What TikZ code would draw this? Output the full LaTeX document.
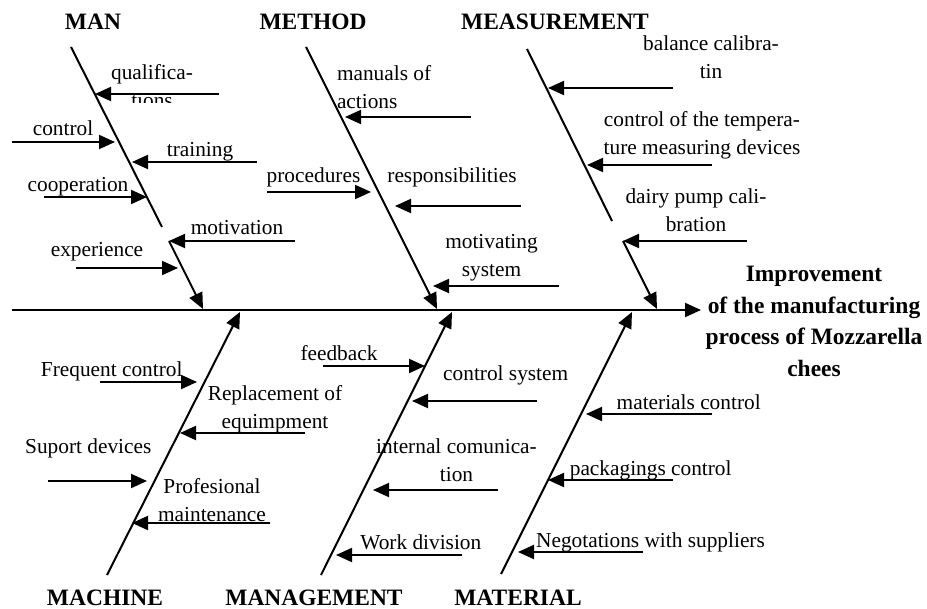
\documentclass[tikz,border=0pt]{standalone}
\usepackage{fontspec}
\setmainfont{Liberation Serif}
\usetikzlibrary{arrows.meta}

\tikzset{every picture/.style={line width=1.5pt}}
\tikzset{
	bone/.style={line width=1.5pt},
	rib/.style={line width=1.5pt,-{Triangle[length=12pt,width=10.5pt]}},
	lbl/.style={inner sep=0pt,anchor=base,align=center,font=\fontsize{16}{21}\selectfont},
	cat/.style={inner sep=0pt,anchor=base,font=\fontsize{17.6}{21}\selectfont\bfseries},
	effect/.style={inner sep=0pt,anchor=base,align=center,font=\fontsize{17.6}{23.8}\selectfont\bfseries}}

\begin{document}
\begin{tikzpicture}[x=0.75pt,y=0.75pt,yscale=-1,xscale=1]
	\useasboundingbox (0,0) rectangle (927,609);

	% Text Node
	\node[effect] (goal) at (814,376.7) {Improvement\\of the manufacturing\\process of Mozzarella\\chees};
	% Text Node
	\node[cat] (man) at (93,30) {MAN};
	\node[cat] (method) at (313,30) {METHOD};
	\node[cat] (measure) at (555,30) {MEASUREMENT};
	\node[cat] (machine) at (105,605) {MACHINE};
	\node[cat] (manage) at (314,605) {MANAGEMENT};
	\node[cat] (material) at (518,605) {MATERIAL};

	%Straight Lines - spine
	\coordinate (tail) at (12,310);
	\coordinate (head) at (701,310);
	\draw[rib] (tail) -- (head);

	%Straight Lines - top bones
	\coordinate (manA) at (71,47);
	\coordinate (manB) at (162,227);
	\coordinate (manC) at (169,241);
	\coordinate (manD) at (203,309);
	\draw[bone] (manA) -- (manB);
	\draw[rib] (manC) -- (manD);
	\coordinate (metA) at (306,47);
	\coordinate (metB) at (437,309);
	\draw[rib] (metA) -- (metB);
	\coordinate (meaA) at (527,49);
	\coordinate (meaB) at (612,221);
	\coordinate (meaC) at (623,241);
	\coordinate (meaD) at (657,309);
	\draw[bone] (meaA) -- (meaB);
	\draw[rib] (meaC) -- (meaD);

	%Straight Lines - bottom bones
	\coordinate (macA) at (107,575);
	\coordinate (macB) at (240,312);
	\draw[rib] (macA) -- (macB);
	\coordinate (mngA) at (321,575);
	\coordinate (mngB) at (452,312);
	\draw[rib] (mngA) -- (mngB);
	\coordinate (matA) at (501,574);
	\coordinate (matB) at (632,312);
	\draw[rib] (matA) -- (matB);

	%Straight Lines - MAN
	\coordinate (qualS) at (219,94);   \coordinate (qualE) at (95,94);
	\coordinate (contS) at (12,142);   \coordinate (contE) at (115,142);
	\coordinate (trainS) at (257,162); \coordinate (trainE) at (132,162);
	\coordinate (coopS) at (44,197);   \coordinate (coopE) at (147,197);
	\coordinate (motS) at (295,241);   \coordinate (motE) at (169,241);
	\coordinate (expS) at (76,268);    \coordinate (expE) at (178,268);
	\draw[rib] (qualS) -- (qualE);
	\draw[rib] (contS) -- (contE);
	\draw[rib] (trainS) -- (trainE);
	\draw[rib] (coopS) -- (coopE);
	\draw[rib] (motS) -- (motE);
	\draw[rib] (expS) -- (expE);

	%Straight Lines - METHOD
	\coordinate (manuS) at (471,117);  \coordinate (manuE) at (345,117);
	\coordinate (procS) at (267,192);  \coordinate (procE) at (371,192);
	\coordinate (respS) at (521,206);  \coordinate (respE) at (395,206);
	\coordinate (msysS) at (559,286);  \coordinate (msysE) at (433,286);
	\draw[rib] (manuS) -- (manuE);
	\draw[rib] (procS) -- (procE);
	\draw[rib] (respS) -- (respE);
	\draw[rib] (msysS) -- (msysE);

	%Straight Lines - MEASUREMENT
	\coordinate (balS) at (673,88);    \coordinate (balE) at (548,88);
	\coordinate (tempS) at (712,165);  \coordinate (tempE) at (587,165);
	\coordinate (pumpS) at (747,241);  \coordinate (pumpE) at (623,241);
	\draw[rib] (balS) -- (balE);
	\draw[rib] (tempS) -- (tempE);
	\draw[rib] (pumpS) -- (pumpE);

	%Straight Lines - MACHINE
	\coordinate (freqS) at (100,382);  \coordinate (freqE) at (197,382);
	\coordinate (replS) at (305,433);  \coordinate (replE) at (180,433);
	\coordinate (supS) at (48,481);    \coordinate (supE) at (147,481);
	\coordinate (profS) at (270,523);  \coordinate (profE) at (132,523);
	\draw[rib] (freqS) -- (freqE);
	\draw[rib] (replS) -- (replE);
	\draw[rib] (supS) -- (supE);
	\draw[rib] (profS) -- (profE);

	%Straight Lines - MANAGEMENT
	\coordinate (feedS) at (323,366);  \coordinate (feedE) at (425,366);
	\coordinate (csysS) at (537,401);  \coordinate (csysE) at (412,401);
	\coordinate (commS) at (498,490);  \coordinate (commE) at (373,490);
	\coordinate (workS) at (462,555);  \coordinate (workE) at (336,555);
	\draw[rib] (feedS) -- (feedE);
	\draw[rib] (csysS) -- (csysE);
	\draw[rib] (commS) -- (commE);
	\draw[rib] (workS) -- (workE);

	%Straight Lines - MATERIAL
	\coordinate (matcS) at (712,414);  \coordinate (matcE) at (586,414);
	\coordinate (packS) at (673,480);  \coordinate (packE) at (548,480);
	\coordinate (negS) at (643,552);   \coordinate (negE) at (518,552);
	\draw[rib] (matcS) -- (matcE);
	\draw[rib] (packS) -- (packE);
	\draw[rib] (negS) -- (negE);

	% Text Node - MAN
	\begin{scope}
		\clip (100,50) rectangle (260,103);
		\node[lbl] (qual) at (152,108) {qualifica-\\tions};
	\end{scope}
	\node[lbl] (cont) at (63,136) {control};
	\node[lbl] (train) at (200,157) {training};
	\node[lbl] (coop) at (78,192) {cooperation};
	\node[lbl] (mot) at (237,235) {motivation};
	\node[lbl] (exp) at (97,257) {experience};

	% Text Node - METHOD
	\node[lbl,anchor=base west,align=left] (manu) at (336,109) {manuals of\\actions};
	\node[lbl] (proc) at (313.5,183) {procedures};
	\node[lbl] (resp) at (452,183) {responsibilities};
	\node[lbl] (msys) at (491.5,276.7) {motivating\\system};

	% Text Node - MEASUREMENT
	\node[lbl] (bal) at (711,79) {balance calibra-\\tin};
	\node[lbl] (temp) at (702,155) {control of the tempera-\\ture measuring devices};
	\node[lbl] (pump) at (696,231.7) {dairy pump cali-\\bration};

	% Text Node - MACHINE
	\node[lbl] (freq) at (111.7,376.7) {Frequent control};
	\node[lbl] (repl) at (275,428.3) {Replacement of\\equimpment};
	\node[lbl] (sup) at (88.3,453) {Suport devices};
	\node[lbl] (prof) at (212,521) {Profesional\\maintenance};

	% Text Node - MANAGEMENT
	\node[lbl] (feed) at (339,360) {feedback};
	\node[lbl] (csys) at (505.7,380.7) {control system};
	\node[lbl] (comm) at (456.5,481.7) {internal comunica-\\tion};
	\node[lbl] (work) at (420.8,549.3) {Work division};

	% Text Node - MATERIAL
	\node[lbl] (matc) at (688.7,409.3) {materials control};
	\node[lbl] (pack) at (650.7,475) {packagings control};
	\node[lbl] (neg) at (650.5,547.3) {Negotations with suppliers};

\end{tikzpicture}
\end{document}
